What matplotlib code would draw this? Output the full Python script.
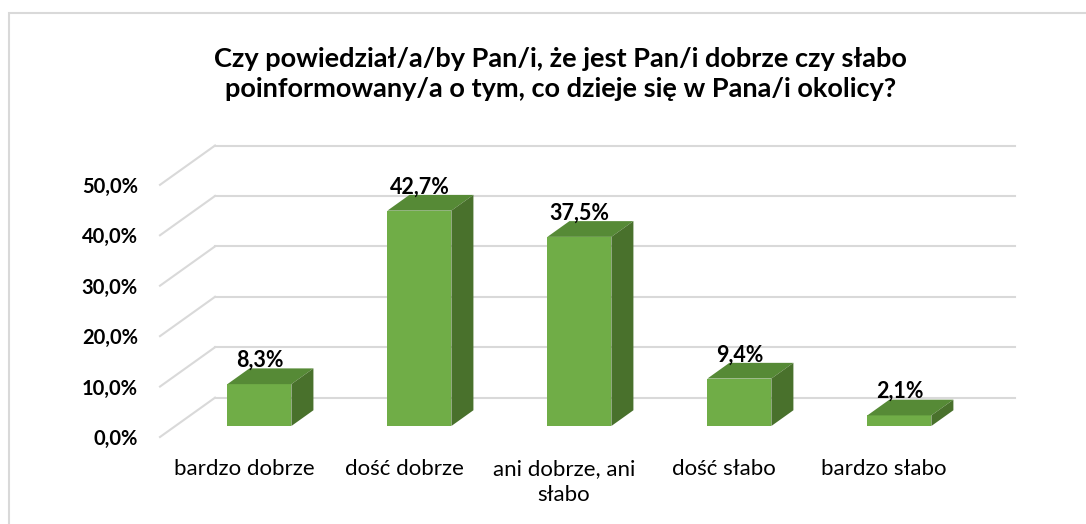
import matplotlib
matplotlib.use("Agg")
import matplotlib.pyplot as plt
from matplotlib.patches import Polygon, Rectangle

plt.rcParams["font.family"] = ["Lato", "DejaVu Sans"]

# Data
categories = ["bardzo dobrze", "dość dobrze", "ani dobrze, ani\nsłabo", "dość słabo", "bardzo słabo"]
values = [8.3, 42.7, 37.5, 9.4, 2.1]
value_labels = ["8,3%", "42,7%", "37,5%", "9,4%", "2,1%"]
y_ticks = [0, 10, 20, 30, 40, 50]
y_tick_labels = ["0,0%", "10,0%", "20,0%", "30,0%", "40,0%", "50,0%"]
title = ("Czy powiedział/a/by Pan/i, że jest Pan/i dobrze czy słabo\n"
         "poinformowany/a o tym, co dzieje się w Pana/i okolicy?")

# fake 3D geometry: full depth offset of the back wall (category units, percent units)
DEPTH_DX = 0.344
DEPTH_DY = 7.8
BAR_FRONT = 0.28
BAR_BACK = 0.68
BAR_WIDTH = 0.4

FRONT_COLOR = "#70AD47"
TOP_COLOR = "#568A36"
SIDE_COLOR = "#49712C"
GRID_COLOR = "#D9D9D9"

fig = plt.figure(figsize=(10.86, 5.24), dpi=100)
ax = fig.add_axes([160 / 1086, 87 / 524, 855 / 1086, 292 / 524])

x_left = -0.525
x_right = len(categories) - 0.525
ax.set_xlim(x_left, x_right + DEPTH_DX)
ax.set_ylim(0, 57.9)

# walls: side wall diagonals + back wall lines
for v in y_ticks:
    ax.plot([x_left, x_left + DEPTH_DX], [v, v + DEPTH_DY], color=GRID_COLOR, lw=1.5,
            clip_on=False, zorder=1)
    ax.plot([x_left + DEPTH_DX, x_right + DEPTH_DX], [v + DEPTH_DY, v + DEPTH_DY],
            color=GRID_COLOR, lw=1.5, clip_on=False, zorder=1)

# bars
ddx = (BAR_BACK - BAR_FRONT) * DEPTH_DX
ddy = (BAR_BACK - BAR_FRONT) * DEPTH_DY
base = BAR_FRONT * DEPTH_DY
for i, v in enumerate(values):
    xc = i + BAR_FRONT * DEPTH_DX
    xl = xc - BAR_WIDTH / 2
    xr = xc + BAR_WIDTH / 2
    top = base + v
    ax.bar(xc, v, width=BAR_WIDTH, bottom=base, color=FRONT_COLOR, zorder=3)
    ax.add_patch(Polygon([(xl, top), (xr, top), (xr + ddx, top + ddy), (xl + ddx, top + ddy)],
                         closed=True, facecolor=TOP_COLOR, edgecolor="none", zorder=3))
    ax.add_patch(Polygon([(xr, base), (xr, top), (xr + ddx, top + ddy), (xr + ddx, base + ddy)],
                         closed=True, facecolor=SIDE_COLOR, edgecolor="none", zorder=3))
    ax.text(xc, top + ddy + 0.3, value_labels[i], ha="center", va="baseline",
            fontsize=15.5, fontweight="bold", color="black", zorder=4)

ax.set_yticks(y_ticks)
ax.set_yticklabels(y_tick_labels, fontsize=14.5, fontweight="bold")
ax.set_xticks(range(len(categories)))
ax.set_xticklabels(categories, fontsize=16, linespacing=1.35)
ax.tick_params(axis="y", length=0, pad=16)
ax.tick_params(axis="x", length=0, pad=16)
for s in ax.spines.values():
    s.set_visible(False)
ax.patch.set_visible(False)

fig.text(0.516, 0.858, title, ha="center", va="center", fontsize=19.5,
         fontweight="bold", linespacing=1.3)

# chart border
fig.patches.append(Rectangle((9 / 1086, -0.1), 1.2, 0.975 + 0.1, transform=fig.transFigure,
                             fill=False, edgecolor=GRID_COLOR, lw=1.5))

fig.savefig("out.png", dpi=100)
